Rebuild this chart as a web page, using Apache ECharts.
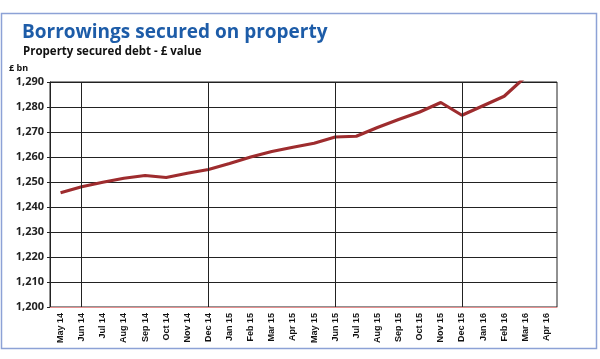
<!DOCTYPE html>
<html>
<head>
<meta charset="utf-8">
<script src="https://cdn.jsdelivr.net/npm/echarts@6/dist/echarts.min.js"></script>
<style>
html,body{margin:0;padding:0;background:#fff;}
#c{width:600px;height:359px;}
</style>
</head>
<body>
<div id="c"></div>
<script>
var titleText = 'Borrowings secured on property';
var subtitleText = 'Property secured debt - £ value';
var unitText = '£ bn';
var categories = ['May 14','Jun 14','Jul 14','Aug 14','Sep 14','Oct 14','Nov 14','Dec 14',
  'Jan 15','Feb 15','Mar 15','Apr 15','May 15','Jun 15','Jul 15','Aug 15','Sep 15','Oct 15','Nov 15','Dec 15',
  'Jan 16','Feb 16','Mar 16','Apr 16'];
var debtValues = [1245.7,1248.1,1249.9,1251.5,1252.6,1251.8,1253.5,1255.0,
  1257.4,1260.0,1262.2,1263.9,1265.5,1268.0,1268.3,1271.8,1275.0,1278.0,1281.8,1276.7,
  1280.5,1284.3,1292.0,null];
var verticalLineCats = ['Jun 14','Dec 14','Jun 15','Dec 15'];
var yMin = 1200, yMax = 1290, yStep = 10;

var chart = echarts.init(document.getElementById('c'), null, {renderer:'canvas'});
chart.setOption({
  animation: false,
  backgroundColor: '#ffffff',
  graphic: [
    {type:'rect', shape:{x:1.5,y:13.5,width:595,height:335}, style:{fill:'none', stroke:'#8da2d6', lineWidth:1.5}, z:-1},
    {type:'text', left:22, top:23, style:{text:titleText, font:'bold 19px "Open Sans", sans-serif', fill:'#1d5ca8'}},
    {type:'text', left:23, top:46, style:{text:subtitleText, font:'bold 11.5px "Open Sans", sans-serif', fill:'#111'}},
    {type:'text', left:9, top:64, style:{text:unitText, font:'bold 9px "Open Sans", sans-serif', fill:'#111'}}
  ],
  grid: {left:50, right:43, top:82, bottom:52, show:true, borderColor:'#222', borderWidth:1},
  xAxis: {
    type:'category', data:categories, boundaryGap:true,
    axisLine:{show:true, lineStyle:{color:'#e59090', width:1}},
    axisTick:{show:false},
    splitLine:{show:false},
    axisLabel:{rotate:90, margin:6, fontSize:9, fontWeight:'bold', color:'#111',
      fontFamily:'"Liberation Sans Narrow", "Liberation Sans", sans-serif', interval:0}
  },
  yAxis: {
    type:'value', min:yMin, max:yMax, interval:yStep,
    axisLine:{show:true, lineStyle:{color:'#222', width:1}},
    axisTick:{show:true, length:3, lineStyle:{color:'#222'}},
    splitLine:{show:true, lineStyle:{color:'#222', width:1}},
    axisLabel:{margin:6, fontSize:11, fontWeight:'bold', color:'#222',
      fontFamily:'"Open Sans", sans-serif',
      formatter:function(v){return v.toLocaleString('en-US');}}
  },
  series: [{
    type:'line', data:debtValues, symbol:'none', clip:true,
    lineStyle:{color:'#9e2c2e', width:3.2},
    itemStyle:{color:'#9e2c2e'},
    markLine:{silent:true, symbol:'none', label:{show:false},
      lineStyle:{color:'#222', width:1, type:'solid'},
      data: verticalLineCats.map(function(c){return {xAxis:c};})},
    z:3
  }]
});
</script>
</body>
</html>
